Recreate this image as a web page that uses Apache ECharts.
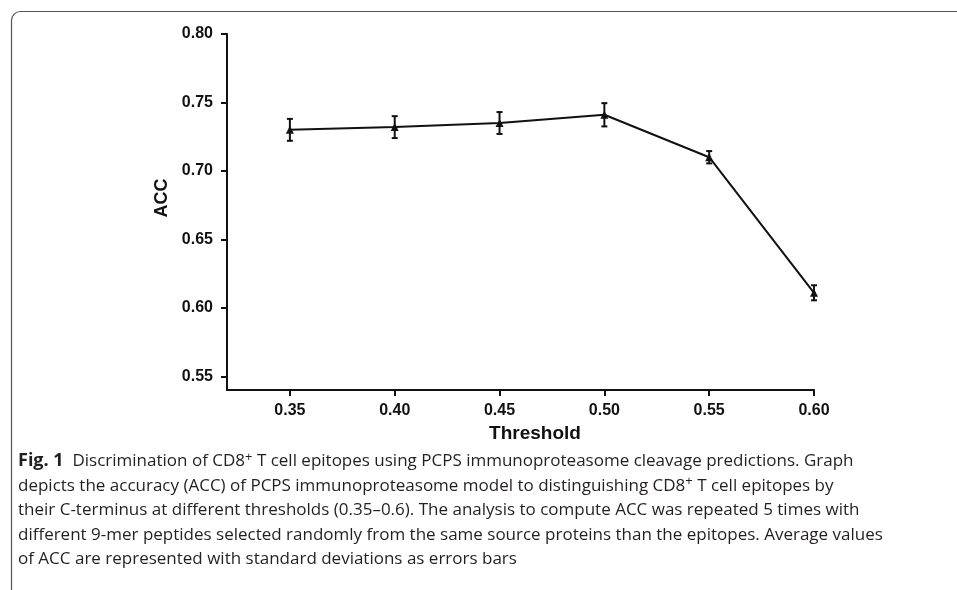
<!DOCTYPE html>
<html>
<head>
<meta charset="utf-8">
<script src="https://cdn.jsdelivr.net/npm/echarts@6/dist/echarts.min.js"></script>
<style>
html, body { margin: 0; padding: 0; background: #fff; }
#chart { width: 957px; height: 590px; }
</style>
</head>
<body>
<div id="chart"></div>
<script>
// thresholds and ACC
var thresholds = [0.35, 0.40, 0.45, 0.50, 0.55, 0.60];
var accMean = [0.730, 0.732, 0.735, 0.741, 0.710, 0.611];
var accSd = [0.008, 0.008, 0.008, 0.0085, 0.0045, 0.0055];

var xTicks = [0.35, 0.40, 0.45, 0.50, 0.55, 0.60];
var yTicks = [0.55, 0.60, 0.65, 0.70, 0.75, 0.80];

var captionLines = [
	'{b|Fig. 1}  Discrimination of CD8{sup|+} T cell epitopes using PCPS immunoproteasome cleavage predictions. Graph',
	'depicts the accuracy (ACC) of PCPS immunoproteasome model to distinguishing CD8{sup|+} T cell epitopes by',
	'their C-terminus at different thresholds (0.35\u20130.6). The analysis to compute ACC was repeated 5 times with',
	'different 9-mer peptides selected randomly from the same source proteins than the epitopes. Average values',
	'of ACC are represented with standard deviations as errors bars'
];

var lineData = [];
var errData = [];
for (var i = 0; i < thresholds.length; i++) {
	lineData.push([thresholds[i], accMean[i]]);
	errData.push([thresholds[i], accMean[i] - accSd[i], accMean[i] + accSd[i]]);
}

function fmt(v) { return v.toFixed(2); }

var chart = echarts.init(document.getElementById('chart'));

var axisFont = { fontFamily: 'Liberation Sans', fontWeight: 'bold', fontSize: 16, color: '#111' };

chart.setOption({
	animation: false,
	grid: { left: 227, right: 143, top: 34, bottom: 200 },
	xAxis: {
		type: 'value',
		min: 0.32,
		max: 0.60,
		splitLine: { show: false },
		axisLine: { lineStyle: { color: '#111', width: 2 } },
		axisTick: { customValues: xTicks, length: 6, lineStyle: { color: '#111', width: 2 } },
		axisLabel: Object.assign({ customValues: xTicks, formatter: fmt, margin: 13 }, axisFont)
	},
	yAxis: {
		type: 'value',
		min: 0.54,
		max: 0.80,
		splitLine: { show: false },
		axisLine: { show: true, lineStyle: { color: '#111', width: 2 } },
		axisTick: { show: true, customValues: yTicks, length: 6, lineStyle: { color: '#111', width: 2 } },
		axisLabel: Object.assign({ customValues: yTicks, formatter: fmt, margin: 14 }, axisFont)
	},
	graphic: [
		{
			type: 'rect',
			silent: true,
			shape: { x: 11.5, y: 11.5, width: 1200, height: 800, r: [9, 0, 0, 0] },
			style: { fill: 'none', stroke: '#555', lineWidth: 1.2 }
		},
		{
			type: 'text',
			x: 162, y: 198,
			rotation: Math.PI / 2,
			style: {
				text: 'ACC', fontFamily: 'Liberation Sans', fontWeight: 'bold', fontSize: 18,
				fill: '#111', align: 'center', verticalAlign: 'middle'
			}
		},
		{
			type: 'text',
			x: 535, y: 434,
			style: {
				text: 'Threshold', fontFamily: 'Liberation Sans', fontWeight: 'bold', fontSize: 19,
				fill: '#111', align: 'center', verticalAlign: 'middle'
			}
		},
		{
			type: 'text',
			x: 18, y: 449,
			style: {
				text: captionLines.join('\n'),
				fontFamily: 'Open Sans', fontSize: 17, fill: '#231f20',
				lineHeight: 24.5,
				rich: {
					b: { fontFamily: 'Open Sans', fontWeight: 'bold', fontSize: 18, fill: '#231f20' },
					sup: { fontFamily: 'Open Sans', fontSize: 13, fill: '#231f20', padding: [0, 0, 8, 0] }
				}
			}
		}
	],
	series: [
		{
			type: 'line',
			data: lineData,
			symbol: 'triangle',
			symbolSize: 8,
			lineStyle: { color: '#111', width: 2 },
			itemStyle: { color: '#111' },
			z: 3
		},
		{
			type: 'custom',
			data: errData,
			z: 4,
			renderItem: function (params, api) {
				var x = api.value(0);
				var lo = api.coord([x, api.value(1)]);
				var hi = api.coord([x, api.value(2)]);
				var cap = 3;
				var st = { stroke: '#111', lineWidth: 2 };
				return {
					type: 'group',
					children: [
						{ type: 'line', shape: { x1: lo[0], y1: lo[1], x2: hi[0], y2: hi[1] }, style: st },
						{ type: 'line', shape: { x1: lo[0] - cap, y1: lo[1], x2: lo[0] + cap, y2: lo[1] }, style: st },
						{ type: 'line', shape: { x1: hi[0] - cap, y1: hi[1], x2: hi[0] + cap, y2: hi[1] }, style: st }
					]
				};
			}
		}
	]
});
</script>
</body>
</html>
